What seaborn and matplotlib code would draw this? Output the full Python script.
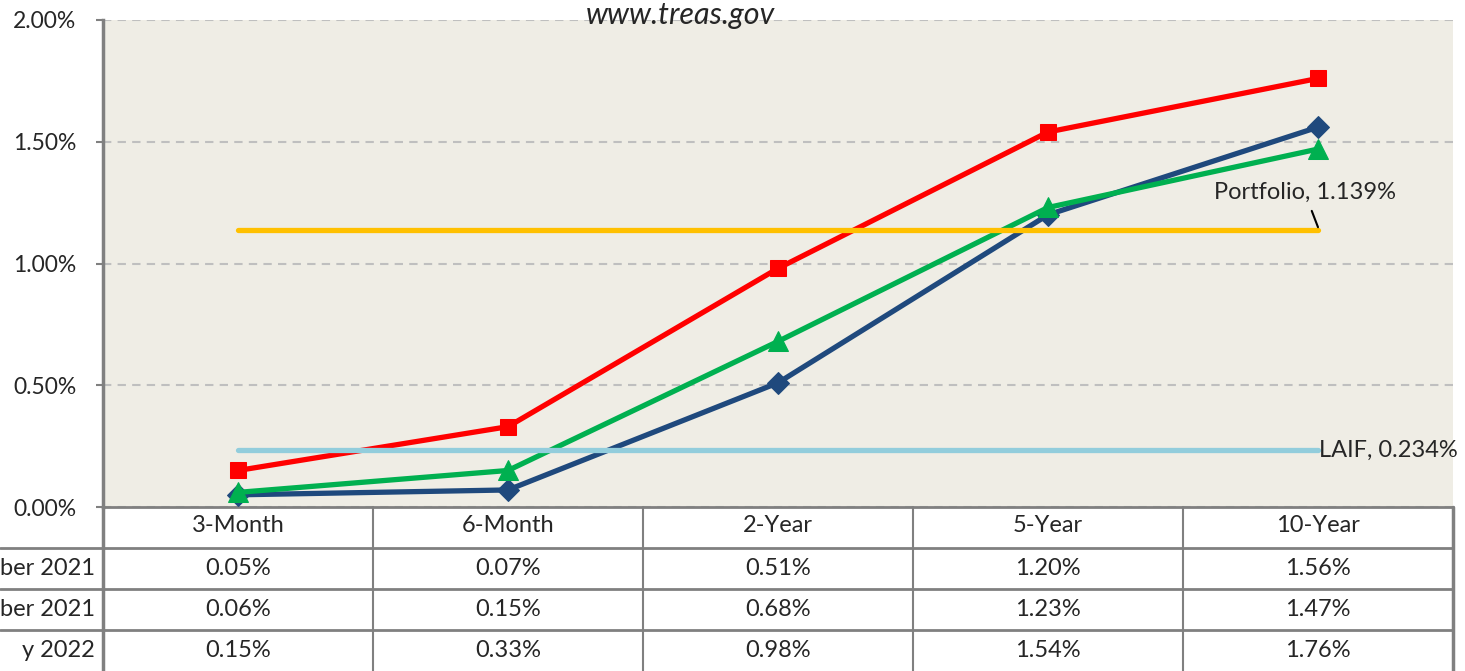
import matplotlib
matplotlib.use("Agg")
import matplotlib.pyplot as plt
import matplotlib.transforms as mtransforms
import pandas as pd
import seaborn as sns

maturities = ["3-Month", "6-Month", "2-Year", "5-Year", "10-Year"]
row_labels = ["ber 2021", "ber 2021", "y 2022"]
yields_a = [0.05, 0.07, 0.51, 1.20, 1.56]
yields_b = [0.06, 0.15, 0.68, 1.23, 1.47]
yields_c = [0.15, 0.33, 0.98, 1.54, 1.76]
portfolio = 1.139
laif = 0.234

series = [
    (yields_a, "#1F497D", "D", 11),
    (yields_b, "#00B050", "^", 14),
    (yields_c, "#FF0000", "s", 11),
]

sns.set_style("white")
plt.rcParams["font.family"] = ["Lato", "DejaVu Sans"]

W, H = 1465, 671
fig = plt.figure(figsize=(W / 100, H / 100), dpi=100)
ax = fig.add_axes([103 / W, (H - 507) / H, 1350 / W, 487 / H])
ax.set_facecolor("#EFEDE5")

for vals, color, mk, ms in series:
    df = pd.DataFrame({"term": maturities, "rate": vals})
    sns.lineplot(data=df, x="term", y="rate", sort=False, color=color, lw=3.8,
                 marker=mk, markersize=ms, markeredgecolor=color, ax=ax, zorder=3)

x0, x1 = 0, len(maturities) - 1
ax.plot([x0, x1], [portfolio, portfolio], color="#FFC000", lw=3.8,
        solid_capstyle="round", zorder=4)
ax.plot([x0, x1], [laif, laif], color="#92CDDC", lw=3.8,
        solid_capstyle="round", zorder=4)

ax.annotate(f"Portfolio, {portfolio:.3f}%", xy=(x1, portfolio + 0.01),
            xytext=(x1 - 0.05, 1.294), ha="center", va="center", fontsize=17,
            arrowprops=dict(arrowstyle="-", color="black", lw=1.5,
                            shrinkA=4, shrinkB=0), zorder=5)
ax.text(x1 + 0.005, laif, f"LAIF, {laif:.3f}%", ha="left", va="center",
        fontsize=17, clip_on=False, zorder=5)

ax.set_xlim(-0.5, len(maturities) - 0.5)
ax.set_ylim(0, 2.0)
ax.set_yticks([0, 0.5, 1.0, 1.5, 2.0])
ax.set_yticklabels([f"{v:.2f}%" for v in [0, 0.5, 1.0, 1.5, 2.0]], fontsize=16.5)
ax.tick_params(axis="y", length=5, width=1.5, color="#808080", pad=14, left=True)
ax.set_xticks([])
ax.set_xlabel("")
ax.set_ylabel("")
ax.yaxis.grid(True, color="#BFBFBF", lw=1.5, ls=(0, (4, 3)))
for s in ["top", "right", "bottom"]:
    ax.spines[s].set_visible(False)
ax.spines["left"].set_color("#808080")
ax.spines["left"].set_linewidth(2.5)

fig.text(680 / W, 1 - 1 / H, "www.treas.gov", ha="center", va="top",
         fontsize=22, style="italic")

# data table under the axis
tr = mtransforms.blended_transform_factory(ax.transData, ax.transAxes)
rh = 41 / 487
n = len(maturities)
xleft = ax.transData.inverted().transform(fig.transFigure.transform((0, 0)))[0]
grey = "#808080"
ax.plot([-0.5, n - 0.5], [0, 0], color=grey, lw=2, transform=tr, clip_on=False)
for r in range(1, 4):
    ax.plot([xleft, n - 0.5], [-r * rh, -r * rh], color=grey, lw=2,
            transform=tr, clip_on=False)
for i in range(n + 1):
    lw = 2.5 if i in (0, n) else 1.5
    ax.plot([i - 0.5, i - 0.5], [0, -4.2 * rh], color=grey, lw=lw,
            transform=tr, clip_on=False)
for i, m in enumerate(maturities):
    ax.text(i, -0.45 * rh, m, ha="center", va="center", fontsize=17,
            transform=tr, clip_on=False)
for r, (vals, _, _, _) in enumerate(series):
    yc = -(r + 1.5) * rh
    ax.text(-0.53, yc, row_labels[r], ha="right", va="center", fontsize=17,
            transform=tr, clip_on=False)
    for i, v in enumerate(vals):
        ax.text(i, yc, f"{v:.2f}%", ha="center", va="center", fontsize=17,
                transform=tr, clip_on=False)

fig.savefig("out.png", dpi=100)
